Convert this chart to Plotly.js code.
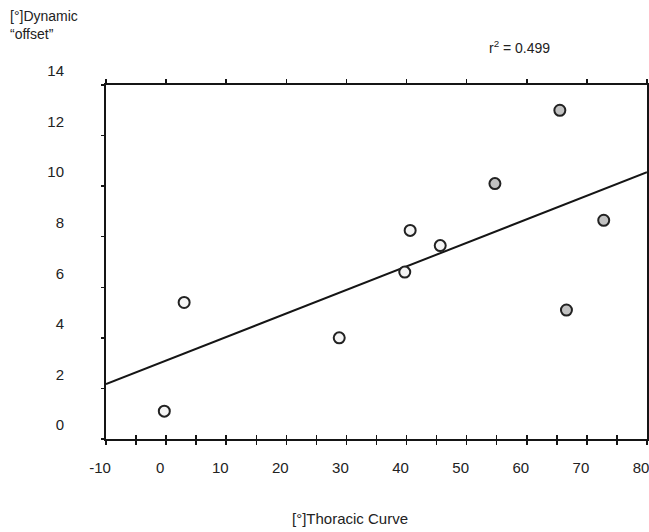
<!DOCTYPE html>
<html>
<head>
<meta charset="utf-8">
<script src="https://cdn.plot.ly/plotly-3.0.1.min.js"></script>
<style>html,body{margin:0;padding:0;background:#fff;}#chart{width:649px;height:532px;}</style>
</head>
<body>
<div id="chart"></div>
<script>
// Data
var openX = [-0.3, 3.0, 28.8, 39.7, 40.6, 45.6];
var openY = [1.1, 5.4, 4.0, 6.6, 8.25, 7.65];
var filledX = [54.7, 65.5, 66.6, 72.8];
var filledY = [10.1, 13.0, 5.1, 8.65];
var xRange = [-10, 80];
var yRange = [0, 14];
var xTickVals = [-10, 0, 10, 20, 30, 40, 50, 60, 70, 80];
var xTickText = ['-10', '0', '10', '20', '30', '40', '50', '60', '70', '80'];
var r2Label = "r<sup>2</sup> = 0.499";
var xTitle = "[°]Thoracic Curve";
var yTitle = "[°]Dynamic<br>“offset”";

// least-squares fit over all points
var allX = openX.concat(filledX), allY = openY.concat(filledY);
var n = allX.length, mx = 0, my = 0;
for (var i = 0; i < n; i++) { mx += allX[i]; my += allY[i]; }
mx /= n; my /= n;
var sxy = 0, sxx = 0;
for (var i = 0; i < n; i++) { sxy += (allX[i]-mx)*(allY[i]-my); sxx += (allX[i]-mx)*(allX[i]-mx); }
var slope = sxy/sxx, icpt = my - slope*mx;
var fitX = xRange.slice();
var fitY = fitX.map(function(v){ return icpt + slope*v; });

var FONT = "'Liberation Sans', Arial, Helvetica, sans-serif";
var INK = '#151515';

var data = [
  {x: fitX, y: fitY, mode: 'lines', line: {color: INK, width: 2}, hoverinfo: 'skip'},
  {x: openX, y: openY, mode: 'markers', marker: {size: 11, color: '#f5f5f5', line: {color: '#222', width: 2}}},
  {x: filledX, y: filledY, mode: 'markers', marker: {size: 11, color: '#c2c2c2', line: {color: '#222', width: 2}}},
  // invisible carriers so the frame axes (top/right/inner ticks) are drawn
  {x: fitX, y: fitY, xaxis: 'x2', yaxis: 'y2', mode: 'lines', line: {width: 0}, opacity: 0, hoverinfo: 'skip'},
  {x: fitX, y: fitY, xaxis: 'x3', yaxis: 'y', mode: 'lines', line: {width: 0}, opacity: 0, hoverinfo: 'skip'}
];

var tickFont = {family: FONT, size: 15, color: '#222'};
var layout = {
  width: 649, height: 532,
  margin: {l: 106, r: 2, t: 85, b: 93, pad: 0},
  paper_bgcolor: '#fff', plot_bgcolor: '#fff',
  showlegend: false,
  xaxis: {
    range: xRange, tickmode: 'array', tickvals: xTickVals, ticktext: xTickText,
    ticks: 'outside', ticklen: 4, tickwidth: 1.5, tickcolor: INK,
    minor: {tickmode: 'linear', tick0: 0, dtick: 5, ticks: 'outside', ticklen: 4, tickwidth: 1.5, tickcolor: INK},
    showline: true, linewidth: 2, linecolor: INK, showgrid: false, zeroline: false,
    tickfont: tickFont, ticklabelshift: -6, ticklabelstandoff: 10, ticklabeloverflow: 'allow', fixedrange: true
  },
  xaxis2: {
    overlaying: 'x', side: 'top', anchor: 'y2', range: xRange, tick0: 0, dtick: 10,
    ticks: 'outside', ticklen: 4, tickwidth: 1.5, tickcolor: INK,
    showline: true, linewidth: 2, linecolor: INK, showgrid: false, zeroline: false, showticklabels: false
  },
  xaxis3: {
    overlaying: 'x', side: 'bottom', anchor: 'y', range: xRange, tick0: 0, dtick: 5,
    ticks: 'inside', ticklen: 4, tickwidth: 1.5, tickcolor: INK,
    showline: false, showgrid: false, zeroline: false, showticklabels: false
  },
  yaxis: {
    range: yRange, tick0: 0, dtick: 2, ticks: 'outside', ticklen: 3, tickwidth: 1.5, tickcolor: INK,
    showline: true, linewidth: 2, linecolor: INK, showgrid: false, zeroline: false,
    tickfont: tickFont, ticklabelshift: -14, ticklabelstandoff: 34, fixedrange: true
  },
  yaxis2: {
    overlaying: 'y', side: 'right', anchor: 'x2', range: yRange, tick0: 0, dtick: 1,
    ticks: 'outside', ticklen: 3, tickwidth: 1.5, tickcolor: INK,
    showline: true, linewidth: 2, linecolor: INK, showgrid: false, zeroline: false, showticklabels: false
  },
  annotations: [
    {text: yTitle, xref: 'paper', yref: 'paper', x: -0.181, y: 1.222, xanchor: 'left', yanchor: 'top',
     align: 'left', showarrow: false, font: {family: FONT, size: 14, color: '#222'}},
    {text: r2Label, xref: 'paper', yref: 'paper', x: 0.704, y: 1.107, xanchor: 'left', yanchor: 'middle',
     showarrow: false, font: {family: FONT, size: 14, color: '#222'}},
    {text: xTitle, xref: 'paper', yref: 'paper', x: 0.451, y: -0.225, xanchor: 'center', yanchor: 'middle',
     showarrow: false, font: {family: FONT, size: 15, color: '#222'}}
  ]
};

Plotly.newPlot('chart', data, layout, {displayModeBar: false, staticPlot: true});
</script>
</body>
</html>
